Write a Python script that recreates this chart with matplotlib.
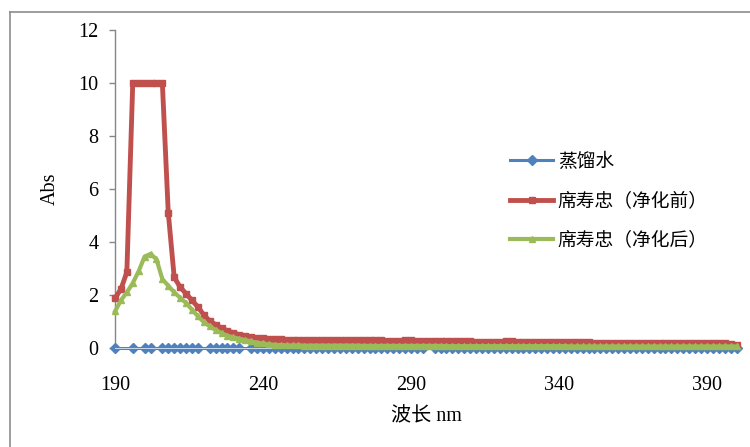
import numpy as np
import matplotlib
matplotlib.use("Agg")
import matplotlib.pyplot as plt
from matplotlib.lines import Line2D

# ---------------- data ----------------
wavelength = list(range(190, 401, 2))

red_vals = [1.88, 2.22, 2.86, 10, 10, 10, 10, 10, 10, 5.1,
            2.67, 2.3, 2.05, 1.8, 1.55, 1.25, 1.02, 0.88, 0.75, 0.65,
            0.57, 0.5, 0.45, 0.41, 0.38, 0.36, 0.35, 0.34, 0.33, 0.32,
            0.31, 0.30, 0.30, 0.30, 0.31, 0.31, 0.30, 0.29, 0.29, 0.29,
            0.29, 0.29, 0.29, 0.30, 0.30, 0.29, 0.28, 0.28, 0.28, 0.29,
            0.29, 0.28, 0.27, 0.26, 0.26, 0.26, 0.26, 0.26, 0.25, 0.25,
            0.25, 0.24, 0.24, 0.24, 0.24, 0.24, 0.25, 0.25, 0.24, 0.23,
            0.23, 0.23, 0.22, 0.22, 0.22, 0.22, 0.22, 0.22, 0.22, 0.21,
            0.21, 0.20, 0.20, 0.20, 0.20, 0.20, 0.19, 0.19, 0.19, 0.19,
            0.19, 0.19, 0.19, 0.20, 0.20, 0.20, 0.20, 0.19, 0.18, 0.18,
            0.18, 0.18, 0.17, 0.17, 0.15, 0.12]

green_vals = [1.38, 1.8, 2.1, 2.45, 2.9, 3.45, 3.55, 3.35, 2.6, 2.35,
              2.1, 1.9, 1.7, 1.45, 1.2, 0.98, 0.82, 0.68, 0.56, 0.46,
              0.4, 0.35, 0.3, 0.25, 0.2, 0.17, 0.14, 0.12, 0.11, 0.10,
              0.10, 0.10, 0.09, 0.09, 0.09, 0.09, 0.09, 0.09, 0.09, 0.09,
              0.09, 0.09, 0.08, 0.08, 0.08, 0.08, 0.08, 0.08, 0.08, 0.08,
              0.08, 0.08, 0.08, 0.08, 0.08, 0.08, 0.07, 0.07, 0.07, 0.07,
              0.07, 0.07, 0.07, 0.07, 0.07, 0.07, 0.07, 0.07, 0.07, 0.07,
              0.07, 0.07, 0.07, 0.07, 0.07, 0.07, 0.07, 0.06, 0.06, 0.06,
              0.06, 0.06, 0.06, 0.06, 0.06, 0.06, 0.06, 0.06, 0.06, 0.06,
              0.06, 0.06, 0.06, 0.06, 0.06, 0.06, 0.06, 0.06, 0.06, 0.06,
              0.06, 0.06, 0.06, 0.06, 0.06, 0.06]

# distilled water: zero, with some blank cells
blue_missing = [192, 194, 198, 204, 220, 234, 296]
blue_x = [w for w in wavelength if w not in blue_missing]
blue_vals = [0.0 for _ in blue_x]

labels = ["蒸馏水", "席寿忠（净化前）", "席寿忠（净化后）"]
x_ticks = [190, 240, 290, 340, 390]
y_ticks = [0, 2, 4, 6, 8, 10, 12]

# ---------------- style ----------------
BLUE = "#4F81BD"
RED = "#C0504D"
GREEN = "#9BBB59"
AXC = "#868686"
serif = ["Liberation Serif", "Noto Sans CJK SC"]
cjk = ["Noto Sans CJK SC", "DejaVu Sans"]

fig = plt.figure(figsize=(7.5, 4.47), dpi=100)
W, H = 750, 447
ax = fig.add_axes([115 / W, (H - 348) / H, (738 - 115) / W, (348 - 30) / H])

# chart-area border (top and left visible)
fig.add_artist(Line2D([10 / W, 10 / W], [0, (H - 12) / H], transform=fig.transFigure,
                      color="#8c8c8c", lw=1.2))
fig.add_artist(Line2D([10 / W, 1.0], [(H - 12) / H, (H - 12) / H], transform=fig.transFigure,
                      color="#8c8c8c", lw=1.2))

# series
ax.plot(blue_x, blue_vals, color=BLUE, lw=2.2, marker="D", ms=4.6,
        mfc=BLUE, mec=BLUE, zorder=3, label=labels[0], clip_on=False)
ax.plot(blue_x, blue_vals, color="#dde7f3", lw=0.6, zorder=3.1, clip_on=False)
ax.plot(wavelength, red_vals, color=RED, lw=3.5, marker="s", ms=4.8,
        mfc=RED, mec=RED, zorder=4, label=labels[1], clip_on=False)
ax.plot(wavelength, green_vals, color=GREEN, lw=3.0, marker="^", ms=4.5,
        mfc=GREEN, mec=GREEN, zorder=5, label=labels[2], clip_on=False)

ax.set_xlim(190, 400.5)
ax.set_ylim(0, 12)
ax.set_xticks(x_ticks)
ax.set_yticks(y_ticks)
ax.set_xticklabels([str(t) for t in x_ticks], fontfamily=serif, fontsize=14.5)
ax.set_yticklabels([str(t) for t in y_ticks], fontfamily=serif, fontsize=14.5)

for s in ["top", "right"]:
    ax.spines[s].set_visible(False)
for s in ["left", "bottom"]:
    ax.spines[s].set_color(AXC)
    ax.spines[s].set_linewidth(1.0)
    ax.spines[s].set_zorder(2)

ax.tick_params(axis="y", direction="out", length=4, width=1, color=AXC, pad=8)
ax.tick_params(axis="x", direction="out", length=3, width=1, color=AXC, pad=17)

ax.set_ylabel("Abs", fontfamily=serif, fontsize=14.5, labelpad=13)
ax.set_xlabel("波长 nm", fontfamily=serif, fontsize=14.5, labelpad=9)

leg = ax.legend(loc="upper left", bbox_to_anchor=(510 / W, (H - 151) / H),
                bbox_transform=fig.transFigure, frameon=False,
                prop={"family": cjk, "size": 13.5}, handlelength=2.3,
                handletextpad=0.25, labelspacing=0.97, borderaxespad=0,
                borderpad=0)

fig.savefig("out.png", dpi=100)
